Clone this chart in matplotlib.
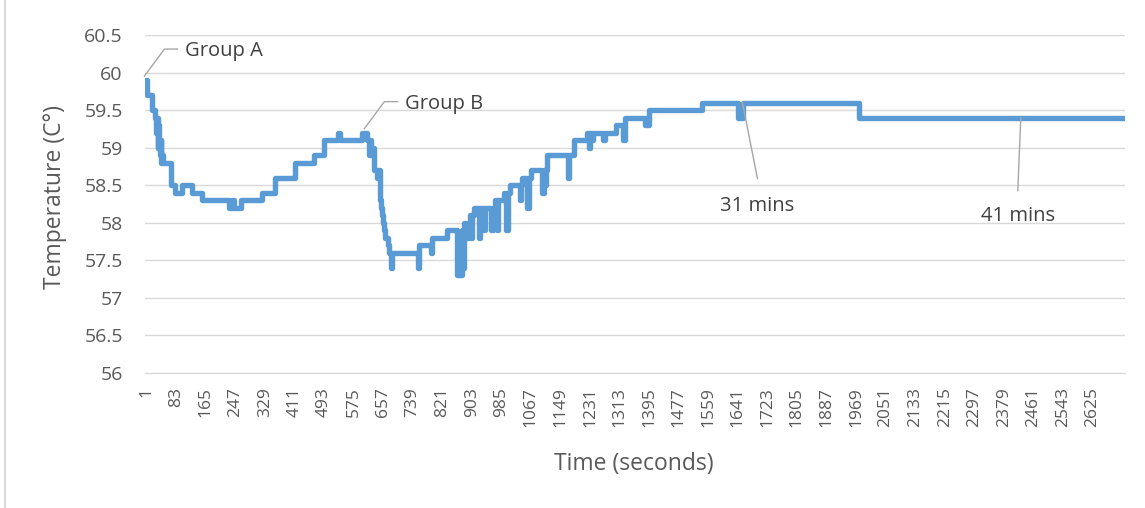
import matplotlib
matplotlib.use("Agg")
import matplotlib.pyplot as plt
from matplotlib.lines import Line2D

plt.rcParams['font.family'] = ['Open Sans', 'DejaVu Sans']

# step change points: time (s) where the reading changes, and the new reading
change_t = [1, 3, 16, 26, 28, 30, 32, 34, 36, 38, 40, 42, 45, 47, 68, 81, 99, 127, 155,
            229, 238, 243, 262, 321, 358, 414, 465, 493, 531, 537, 599, 614, 617, 620,
            625, 628, 632, 640, 644, 650, 652, 655, 658, 661, 664, 670, 674, 678, 683,
            755, 758, 789, 793, 835, 862, 876, 879, 883, 888, 892, 897, 901, 904, 910,
            922, 925, 938, 941, 958, 961, 969, 972, 975, 992, 999, 1003, 1010, 1037,
            1041, 1043, 1057, 1062, 1067, 1099, 1103, 1107, 1110, 1113, 1169, 1173,
            1188, 1224, 1228, 1232, 1237, 1240, 1268, 1273, 1303, 1324, 1329, 1384,
            1394, 1543, 1642, 1655, 1978, 2712]
change_temp = [59.9, 59.7, 59.5, 59.4, 59.2, 59.4, 59.0, 59.3, 59.1, 58.9, 59.1, 58.8, 58.9,
               58.8, 58.5, 58.4, 58.5, 58.4, 58.3, 58.2, 58.3, 58.2, 58.3, 58.4, 58.6,
               58.8, 58.9, 59.1, 59.2, 59.1, 59.2, 59.1, 58.9, 59.1, 58.9, 59.0, 58.7,
               58.6, 58.7, 58.3, 58.2, 58.1, 58.0, 57.9, 57.8, 57.7, 57.6, 57.4, 57.6,
               57.4, 57.7, 57.6, 57.8, 57.9, 57.3, 57.9, 57.4, 58.0, 57.8, 58.0, 58.1,
               57.8, 58.1, 58.2, 57.8, 58.2, 57.9, 58.2, 57.9, 58.2, 58.3, 57.9, 58.3,
               58.4, 57.9, 58.4, 58.5, 58.3, 58.5, 58.6, 58.2, 58.6, 58.7, 58.4, 58.7,
               58.5, 58.7, 58.9, 58.6, 58.9, 59.1, 59.2, 59.0, 59.2, 59.1, 59.2, 59.1,
               59.2, 59.3, 59.1, 59.4, 59.3, 59.5, 59.6, 59.4, 59.6, 59.4, 59.4]

tick_pos = list(range(1, 2626, 82))
y_ticks = [56, 56.5, 57, 57.5, 58, 58.5, 59, 59.5, 60, 60.5]

# data labels: anchor time, anchor temp, text
label_t = [1, 611, 1654, 2426]
label_temp = [59.9, 59.2, 59.6, 59.4]
label_text = ["Group A", "Group B", "31 mins", "41 mins"]

blue = '#5B9BD5'
grid = '#D9D9D9'
txt = '#595959'
lead = '#A6A6A6'
lab = '#404040'

W, H = 1145, 508
fig = plt.figure(figsize=(W / 100, H / 100), dpi=100)
ax = fig.add_axes([145 / W, 1 - 373 / H, 980 / W, 338 / H])

ax.plot(change_t, change_temp, drawstyle='steps-post', color=blue, lw=3.9,
        solid_joinstyle='round', solid_capstyle='round', zorder=3)

ax.set_xlim(-3, 2715)
ax.set_ylim(56, 60.5)
ax.set_xticks(tick_pos)
ax.set_xticklabels([str(p) for p in tick_pos], rotation=90, fontsize=12.5, color=txt)
ax.set_yticks(y_ticks)
ax.set_yticklabels([f"{v:g}" for v in y_ticks], fontsize=14, color=txt)
ax.tick_params(axis='both', length=0)
ax.tick_params(axis='y', pad=16)
ax.tick_params(axis='x', pad=10)
ax.grid(axis='y', color=grid, lw=1)
ax.set_axisbelow(True)
for s in ['top', 'right', 'left']:
    ax.spines[s].set_visible(False)
ax.spines['bottom'].set_color(grid)

ax.set_ylabel("Temperature (C°)", fontsize=16.5, color=txt)
ax.yaxis.set_label_coords(-0.08, 0.52)
ax.set_xlabel("Time (seconds)", fontsize=16.5, color=txt)
ax.xaxis.set_label_coords(0.499, -0.235)


def leader(t, v, pts):
    # polyline leader through pixel offsets from the anchor point
    x0, y0 = ax.transData.transform((t, v))
    xs = [(x0 + dx) / W for dx, dy in pts]
    ys = [(y0 + dy) / H for dx, dy in pts]
    fig.add_artist(Line2D(xs, ys, color=lead, lw=1))


# Group A / Group B: elbow leader up-right, text to the right
for t, v, s in zip(label_t[:2], label_temp[:2], label_text[:2]):
    leader(t, v, [(-2, 4), (18, 31), (31, 31)])
    ax.annotate(s, xy=(t, v), xytext=(39, 29), textcoords='offset pixels',
                ha='left', va='center', fontsize=14.5, color=lab, annotation_clip=False)

# 31 mins / 41 mins: leader down, text below
offs = [(15, -76, 15, -103), (-3, -73, -3, -98)]
for t, v, s, (lx, ly, tx, ty) in zip(label_t[2:], label_temp[2:], label_text[2:], offs):
    leader(t, v, [(0, 0), (lx, ly)])
    ax.annotate(s, xy=(t, v), xytext=(tx, ty), textcoords='offset pixels',
                ha='center', va='center', fontsize=14.5, color=lab)

# chart area border on the left
fig.add_artist(Line2D([5 / W, 5 / W], [0, 1], color=grid, lw=1.5))

fig.savefig("out.png", dpi=100)
